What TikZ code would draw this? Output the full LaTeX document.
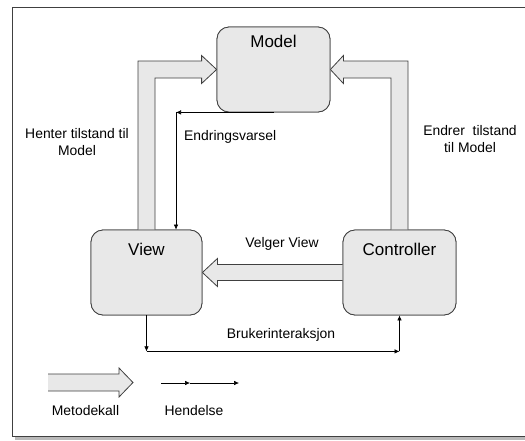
\documentclass[tikz,border=0pt]{standalone}
\usepackage{fontspec}
\setmainfont{Liberation Sans}
\usetikzlibrary{arrows.meta,calc}
\definecolor{boxfill}{RGB}{232,232,232}
\definecolor{edge}{RGB}{64,64,64}
\tikzset{
  mvcbox/.style={draw=edge, fill=boxfill, line width=0.8pt, rounded corners=12pt,
                 minimum height=85pt, inner sep=0pt},
  boxtitle/.style={font=\fontsize{17}{20}\selectfont, inner sep=0pt},
  lbl/.style={font=\fontsize{13.9}{17.4}\selectfont, align=center, inner sep=0pt},
  fat/.style={draw=edge, fill=boxfill, line width=0.8pt, line join=miter},
  event/.style={draw=black, line width=0.6pt, -{Latex[length=5pt,width=4.5pt]}}
}
\begin{document}
\begin{tikzpicture}[x={(1pt,0)}, y={(0,-1pt)}]
  \useasboundingbox (0,0) rectangle (525,440);
  % outer frame with drop shadow
  \fill[gray!55] (15,10) rectangle (533,439.5);
  \draw[black!75, fill=white, line width=1pt] (12,7) rectangle (530,436);

  % the three components
  \node[mvcbox, minimum width=113pt] (model) at (273.5,69.5) {};
  \node[mvcbox, minimum width=111pt] (view)  at (146.5,272.5) {};
  \node[mvcbox, minimum width=113pt] (ctrl)  at (399.5,272.5) {};

  % method-call arrows (View -> Model, Controller -> Model, Controller -> View)
  \draw[fat] ([xshift=-8.5pt]view.north) |- ([xshift=-15pt,yshift=8.5pt]model.west)
     -- ++(0,5.5pt) -- (model.west) -- ++(-15pt,-14pt) -- ++(0,5.5pt)
     -| ([xshift=8.5pt]view.north);
  \draw[fat] ([xshift=8.5pt]ctrl.north) |- ([xshift=13pt,yshift=8.5pt]model.east)
     -- ++(0,5.5pt) -- (model.east) -- ++(13pt,-14pt) -- ++(0,5.5pt)
     -| ([xshift=-8.5pt]ctrl.north);
  \draw[fat] ([yshift=8pt]ctrl.west) -- ([xshift=15pt,yshift=8pt]view.east)
     -- ++(0,6pt) -- (view.east) -- ++(15pt,-14pt) -- ++(0,6pt)
     -- ([yshift=-8pt]ctrl.west);

  % redraw the boxes over the arrow ends
  \node[mvcbox, minimum width=113pt] at (model) {};
  \node[mvcbox, minimum width=111pt] at (view) {};
  \node[mvcbox, minimum width=113pt] at (ctrl) {};
  \node[boxtitle] (modelt) at ([yshift=-15pt]model.north) {Model};
  \node[boxtitle] (viewt)  at ([yshift=-20pt]view.north) {View};
  \node[boxtitle] (ctrlt)  at ([yshift=-20pt]ctrl.north) {Controller};

  % change notification: Model -> View
  \path ([xshift=29.5pt]view.north) coordinate (vtop);
  \draw[event] (model.south) -- (vtop |- model.south);
  \draw[event] (vtop |- model.south) -- (vtop);

  % user interaction: View -> Controller
  \path (view.south) ++(0,-36pt) coordinate (ubl);
  \draw[event] (view.south) -- (ubl);
  \draw[event] (ubl) -- (ubl -| ctrl.south);
  \draw[event] (ubl -| ctrl.south) -- (ctrl.south);

  % labels
  \node[lbl] (henter) at (77,142) {Henter tilstand til\\Model};
  \node[lbl, anchor=west] (endv) at (184,137) {Endringsvarsel};
  \node[lbl] (endrer) at (470,139) {Endrer\ \ tilstand\\til Model};
  \node[lbl] (velger) at (282,244) {Velger View};
  \node[lbl] (bruker) at (281,335) {Brukerinteraksjon};

  % legend
  \coordinate (legA) at (48,382.5);
  \coordinate (legB) at (133,382.5);
  \fill[boxfill] ([yshift=8.5pt]legA) -- ([xshift=-14pt,yshift=8.5pt]legB)
     -- ++(0,6pt) -- (legB) -- ++(-14pt,-14.5pt) -- ++(0,6pt)
     -- ([yshift=-8.5pt]legA) -- cycle;
  \draw[fat, fill=none] ([yshift=8.5pt]legA) -- ([xshift=-14pt,yshift=8.5pt]legB)
     -- ++(0,6pt) -- (legB) -- ++(-14pt,-14.5pt) -- ++(0,6pt)
     -- ([yshift=-8.5pt]legA);
  \coordinate (evA) at (161,383);
  \coordinate (evM) at (190,383);
  \coordinate (evB) at (239,383);
  \draw[event] (evA) -- (evM);
  \draw[event] (evM) -- (evB);
  \node[lbl] (metk) at (85.5,411) {Metodekall};
  \node[lbl] (hend) at (194,411) {Hendelse};
\end{tikzpicture}
\end{document}
